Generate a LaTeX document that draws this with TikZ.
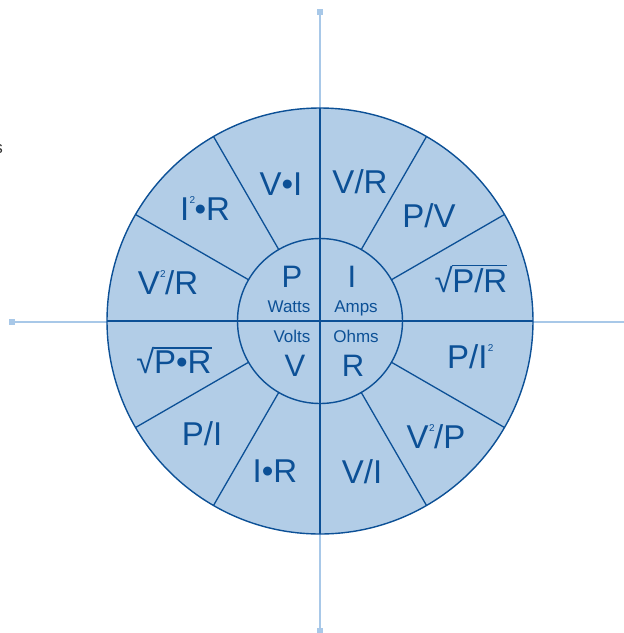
\documentclass[tikz,border=0pt]{standalone}
\usepackage{fontspec}
\setmainfont{Liberation Sans}
\definecolor{dkblue}{RGB}{12,80,150}
\definecolor{ltfill}{RGB}{178,205,231}
\definecolor{axisblue}{RGB}{168,200,232}
\newcommand\myrad[1]{√\kern-0.5pt\vbox{\hrule height 1.4pt\kern 1.6pt\hbox{#1}}}
\newcommand\mysq{\kern0.3pt\raisebox{16.3pt}{\fontsize{10}{10}\selectfont 2}\kern-0.5pt}
\tikzset{
  big/.style={text=dkblue, anchor=base, inner sep=0pt, font=\fontsize{33}{33}\selectfont},
  mid/.style={text=dkblue, anchor=base, inner sep=0pt, font=\fontsize{31}{31}\selectfont},
  small/.style={text=dkblue, anchor=base, inner sep=0pt, font=\fontsize{17}{17}\selectfont},
  sqnode/.style={fill=axisblue, minimum size=6pt, inner sep=0pt, outer sep=0pt},
  axisline/.style={draw=axisblue, line width=2pt},
  ring/.style={circle, draw=dkblue, line width=1.4pt, inner sep=0pt, outer sep=0pt},
  spoke/.style={draw=dkblue, line width=1.3pt}
}
\begin{document}
\begin{tikzpicture}[x=1pt,y=-1pt]
\useasboundingbox (0,0) rectangle (624,633);
% axes
\node[sqnode] (top) at (320,12) {};
\node[sqnode] (bot) at (320,631) {};
\node[sqnode] (lft) at (12,322) {};
\coordinate (rgt) at (630,322);
\draw[axisline] (top) -- (bot);
\draw[axisline] (lft) -- (rgt);
% circles
\node[ring, fill=ltfill, minimum size=426pt] (outer) at (320,321) {};
\node[ring, minimum size=165pt] (inner) at (320,321) {};
\foreach \a in {30,60,120,150,210,240,300,330}
  \draw[spoke] (inner.\a) -- (outer.\a);
\draw[spoke] (outer.0) -- (outer.180);
\draw[spoke] (outer.90) -- (outer.270);
% text cut off at the left edge, as in the reference
\node[small, anchor=base east, text=black!80] (s) at (3,153) {s};
% inner labels
\node[mid] (P) at (292,287) {P};
\node[mid] (I) at (352,287) {I};
\node[small] (watts) at (289,312) {Watts};
\node[small] (amps) at (356,312) {Amps};
\node[small] (volts) at (292,342) {Volts};
\node[small] (ohms) at (356,342) {Ohms};
\node[mid] (V) at (295,376) {V};
\node[mid] (R) at (353,376) {R};
% outer labels
\node[big] (VI) at (281,195) {V•I};
\node[big] (VR) at (360,193) {V/R};
\node[big] (PV) at (429,227) {P/V};
\node[big] (sPR) at (471,292) {\myrad{P/R}};
\node[big] (PI2) at (470,368) {P/I\mysq};
\node[big] (V2P) at (436,448) {V\mysq/P};
\node[big] (VIo) at (362,483) {V/I};
\node[big] (IR) at (275,482) {I•R};
\node[big] (PIo) at (202,445) {P/I};
\node[big] (sPxR) at (174,373) {\myrad{P•R}};
\node[big] (V2R) at (168,294) {V\mysq/R};
\node[big] (I2R) at (205,220) {I\mysq•R};
\end{tikzpicture}
\end{document}
